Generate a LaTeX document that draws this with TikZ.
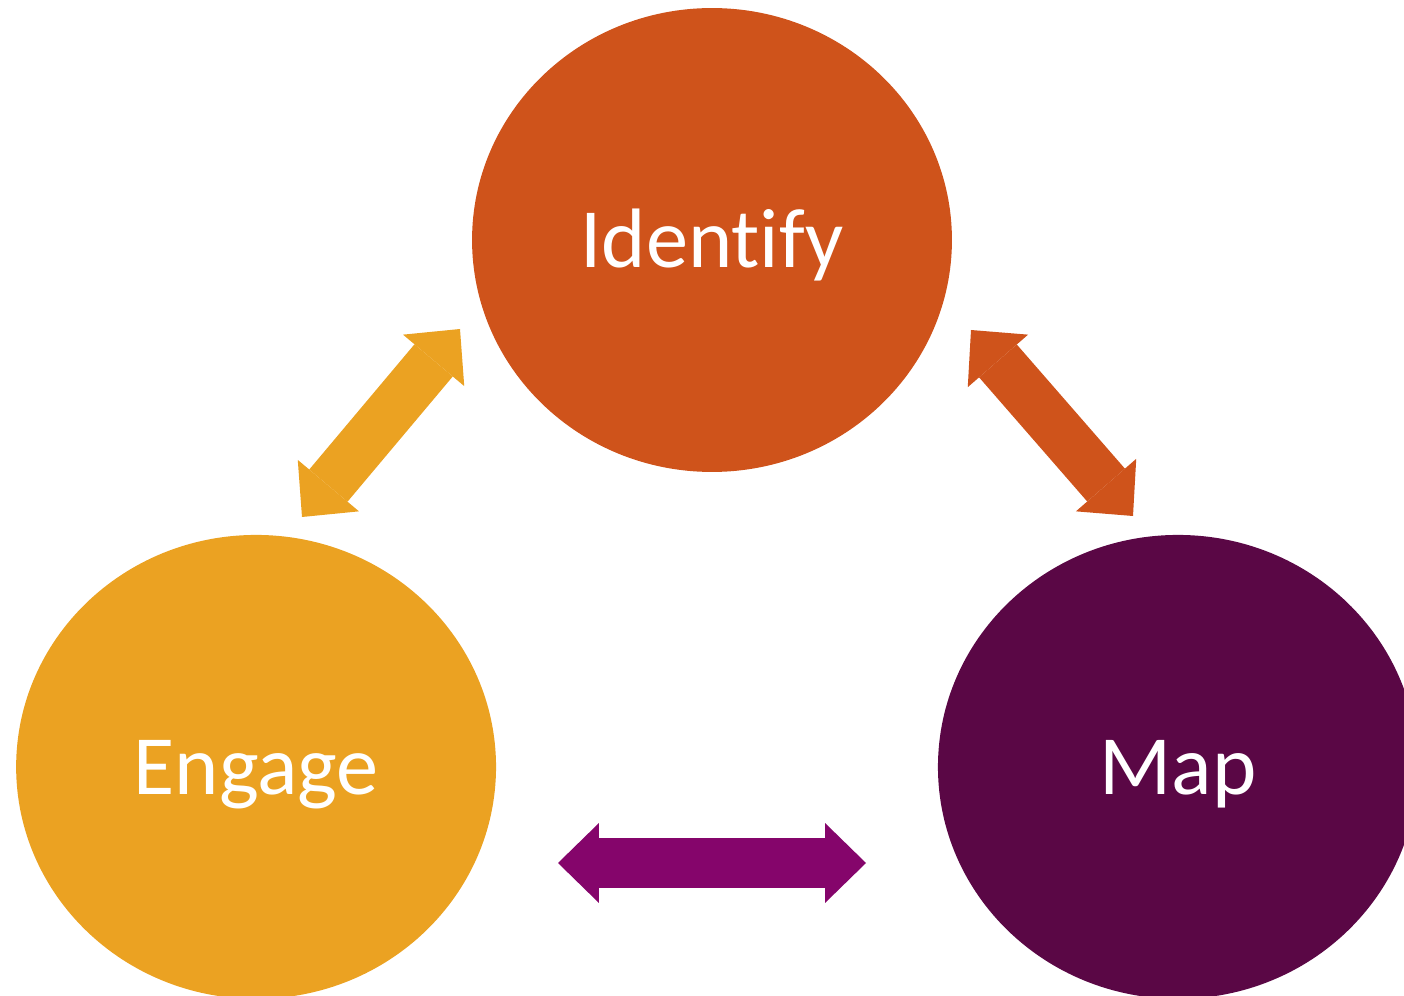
\documentclass[tikz,border=0pt]{standalone}
\usepackage{fontspec}
\setmainfont{Carlito}[Ligatures=NoCommon]
\usepackage{tikz}
\usetikzlibrary{shapes.geometric, arrows.meta}
\definecolor{rust}{RGB}{207,83,27}
\definecolor{amber}{RGB}{235,162,34}
\definecolor{plum}{RGB}{90,7,69}
\definecolor{magen}{RGB}{133,5,107}
\tikzstyle{bubble} = [ellipse, minimum width=9.6cm, minimum height=9.28cm, inner sep=0pt, text=white, font=\fontsize{48}{58}\selectfont, text height=1.1cm, text depth=0pt]
\tikzstyle{arrow}  = [line width=1cm, {Triangle[length=0.82cm, width=1.6cm, line width=0pt]}-{Triangle[length=0.82cm, width=1.6cm, line width=0pt]}]

\begin{document}
\begin{tikzpicture}[x=0.02cm, y=-0.02cm, node distance=10.54cm]
      \useasboundingbox (0,0) rectangle (1404,996);
      \clip (0,0) rectangle (1404,996);

      \node (ident)  [bubble, fill=rust]                            at (712,240) {Identify};
      \node (engage) [bubble, fill=amber, below of=ident, xshift=-9.12cm]        {Engage};
      \node (map)    [bubble, fill=plum, right of=engage, node distance=18.44cm] {Map};

      \coordinate (1A) at (302,517);
      \coordinate (1B) at (460,329);
      \coordinate (2A) at (971,330);
      \coordinate (2B) at (1133,516);
      \coordinate (3A) at (558,863);
      \coordinate (3B) at (866,863);

      \draw [arrow, amber] (1A) -- (1B);
      \draw [arrow, rust]  (2A) -- (2B);
      \draw [arrow, magen] (3A) -- (3B);

    \end{tikzpicture}
\end{document}
